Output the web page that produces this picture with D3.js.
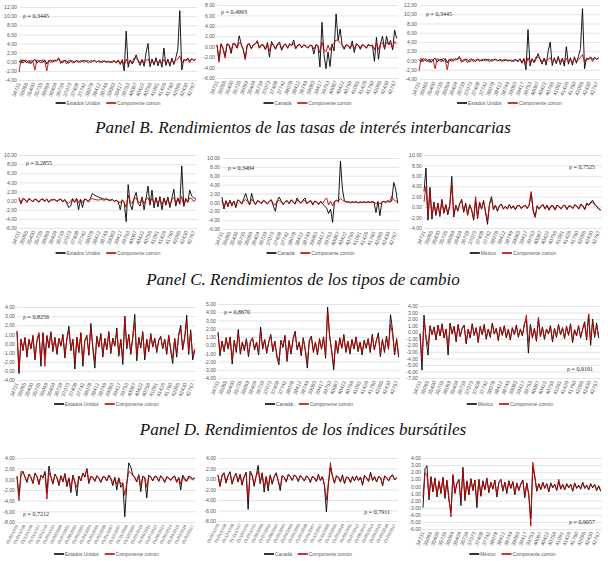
<!DOCTYPE html>
<head>
  <meta charset="utf-8">
  <script src="https://cdn.jsdelivr.net/npm/d3@7"></script>
  <style>
    body { margin: 0; background: #fff; }
  </style>
</head>
<body>
<script>

// category labels (Excel date serials, one every 11 months) and the daily-date variant
var serialTicks = ["34731","35065","35400","35735","36069","36404","36739","37073","37408","37742",
  "38078","38412","38749","39083","39417","39753","40087","40422","40756","41091",
  "41426","41760","42095","42430","42767"]
var dateTicks = ["01/02/1995","01/01/1996","01/12/1996","01/11/1997","01/10/1998","01/09/1999",
  "01/08/2000","01/07/2001","01/06/2002","01/05/2003","01/04/2004","01/03/2005","01/02/2006",
  "01/01/2007","01/12/2007","01/11/2008","01/10/2009","01/09/2010","01/08/2011","01/07/2012",
  "01/06/2013","01/05/2014","01/04/2015","01/03/2016","01/02/2017"]

var panelTitles = ["Panel B. Rendimientos de las tasas de interés interbancarias",
  "Panel C. Rendimientos de los tipos de cambio",
  "Panel D. Rendimientos de los índices bursátiles"]
var countries = ["Estados Unidos", "Canadá", "México"]
var commonLabel = "Componente común"
var rhoLabels = ["0,3445","0,4993","0,3445","0,2855","0,3404","0,7525",
  "0,8256","0,8670","0,9191","0,7212","0,7911","0,9057"]

// Panel A (bonos)
var usBond = [0.2,-0.3,0.4,0.1,-0.2,0.3,-0.4,0.2,0.5,-0.3,
  0.1,0.3,-0.2,0.4,-0.5,0.2,0.3,-0.1,0.4,0.2,
  0.6,0.1,-0.2,0.3,0.2,-0.3,0.1,0.2,-0.2,0.3,
  0.1,-0.1,0.2,0.3,0.1,-0.2,0.2,0.1,0.3,-0.1,
  0.2,0.1,-0.1,0.2,0.0,0.1,-0.2,0.1,0.2,-0.3,
  0.4,-0.6,0.3,-2.0,6.7,-1.2,0.4,-0.5,0.3,1.5,
  0.2,-0.8,0.5,-1.0,2.0,4.0,-1.1,0.6,-0.7,0.9,
  -0.9,0.5,-1.2,3.0,-0.8,0.6,-1.0,0.8,-0.6,0.9,
  2.6,11.2,-1.8,0.5,0.3,0.8,0.2,0.7,0.3,0.6]
var usBondCommon = [-2.3,0.5,-0.3,0.4,0.2,-0.4,0.3,0.1,-1.8,0.4,
  0.2,-0.3,0.5,0.1,-2.0,0.3,-0.2,0.4,0.1,0.3,
  0.9,-0.4,0.2,0.3,-0.5,0.2,0.4,-0.3,0.1,0.2,
  -0.2,0.3,0.1,-0.1,0.2,0.3,-0.2,0.1,0.2,0.0,
  0.1,-0.2,0.2,0.1,-0.1,0.0,0.1,-0.2,0.2,-0.1,
  0.3,-0.4,0.5,-0.9,0.6,-0.5,0.3,-0.2,0.8,0.7,
  0.4,-0.3,0.5,-0.2,0.3,0.6,-0.4,0.2,-0.3,0.4,
  -0.2,0.3,-0.4,0.5,-0.2,0.3,-0.5,0.4,-0.2,0.3,
  0.6,1.3,-0.3,0.4,0.2,0.5,-0.2,0.6,0.3,0.4]
var caBond = [0.3,-2.5,0.6,-0.4,-1.8,0.5,0.3,-1.3,0.7,0.4,
  -0.3,2.1,0.5,-0.6,-2.2,0.4,0.6,-0.4,0.3,0.5,
  1.0,-0.3,0.4,0.2,-0.5,0.8,-2.0,1.0,0.3,-0.4,
  0.6,0.9,-0.7,0.2,0.5,-0.3,0.6,0.2,1.3,-0.4,
  0.3,0.5,-0.2,0.4,0.1,-0.3,0.3,0.2,-1.4,0.4,
  0.2,-3.9,4.7,-1.5,-4.2,-1.0,-3.8,0.5,-0.8,6.3,
  1.2,3.4,0.3,-0.5,0.4,0.2,-0.4,1.1,-1.1,0.6,
  0.3,-0.5,0.4,0.2,-0.3,0.5,0.1,0.3,-2.8,1.8,
  -2.4,0.6,2.0,-0.5,2.0,0.4,1.2,-0.6,3.2,1.6]
var caBondCommon = [0.4,-3.0,0.5,-0.3,-2.2,0.6,0.4,-0.8,0.5,0.6,
  -0.2,0.8,0.4,-0.5,-2.5,0.3,0.5,-0.3,0.4,0.6,
  1.2,-0.2,0.3,0.4,-0.6,0.5,-0.8,0.6,0.2,-0.5,
  0.4,0.6,-0.4,0.3,0.5,-0.2,0.4,0.3,0.6,-0.3,
  0.2,0.4,-0.1,0.3,0.2,-0.2,0.2,0.3,-0.5,0.3,
  0.2,-1.2,0.9,-0.6,-1.0,0.3,-0.7,0.4,0.6,1.3,
  1.1,0.8,0.4,-0.2,0.3,0.2,-0.3,0.5,-0.4,0.4,
  0.3,-0.2,0.4,0.2,-0.2,0.3,0.2,0.3,-0.6,0.7,
  -0.5,0.5,0.8,-0.3,0.9,0.4,0.6,-0.2,1.0,0.5]

// Panel B (tasas interbancarias)
var usRate = [0.3,-0.4,0.5,0.2,-0.3,0.4,0.1,-0.2,0.3,0.2,
  -0.3,0.2,0.4,-0.1,0.3,-0.4,0.2,0.1,0.3,-0.2,
  0.1,0.3,-0.3,0.2,-0.5,-1.5,-1.2,0.3,-0.4,0.5,
  -2.0,0.2,-1.5,0.4,0.1,-0.3,0.5,1.6,1.2,1.0,
  0.8,0.6,0.5,0.3,0.4,0.2,0.1,0.3,-0.2,0.1,
  -0.3,-2.0,0.2,-0.5,-4.6,3.5,-0.8,-2.0,0.6,1.8,
  -0.6,-1.2,0.8,-2.0,0.5,3.2,-1.0,2.3,-1.6,0.7,
  -1.4,0.9,-2.0,0.6,-1.0,0.8,-1.5,0.5,2.5,-1.2,
  0.6,-0.8,7.6,-1.2,0.5,-0.4,2.3,1.0,0.6,0.5]
var usRateCommon = [0.7,-0.8,0.4,0.3,-0.4,0.5,0.2,-0.3,0.4,0.1,
  -0.4,0.3,0.2,-0.2,0.4,-0.3,0.1,0.3,0.2,-0.1,
  0.2,0.4,-0.2,0.3,-0.3,-0.6,-0.2,0.5,-0.3,0.4,
  -0.5,0.3,-0.4,0.2,0.3,-0.2,0.4,0.4,0.3,0.2,
  0.1,0.3,0.2,0.1,0.3,0.1,0.0,0.2,-0.1,0.0,
  -0.2,-0.5,0.1,-0.4,-1.5,1.2,-0.5,-0.6,0.4,0.6,
  -0.3,-0.5,0.4,-0.7,0.3,0.6,-0.4,0.5,-0.6,0.3,
  -0.5,0.4,-1.0,0.3,-0.4,0.5,-1.3,0.2,0.7,-0.6,
  0.4,-0.5,0.9,-1.3,0.3,-0.3,0.6,0.4,-0.2,0.3]
var caRate = [1.2,-1.5,0.4,-1.0,0.5,-0.8,0.3,-1.2,0.6,0.2,
  -0.4,0.8,2.0,0.5,-0.6,2.0,0.3,-0.5,0.4,0.2,
  -0.3,0.5,0.1,-0.4,0.3,0.6,-0.8,-2.0,0.4,1.2,
  0.3,-0.5,0.2,0.4,-0.3,0.6,0.2,-0.4,1.0,0.3,
  -0.2,0.5,1.0,-0.3,0.2,0.4,-0.6,0.3,0.1,-0.5,
  0.3,-0.4,-0.8,-1.3,-2.5,-1.5,-4.5,0.2,0.5,0.1,
  9.3,3.0,0.4,0.1,0.2,-0.1,0.1,0.0,0.2,-0.1,
  0.1,0.0,0.1,-0.1,0.2,0.0,0.1,0.1,-2.3,0.2,
  -3.0,0.1,0.2,0.0,0.4,0.1,0.3,4.5,3.0,-0.2]
var caRateCommon = [0.5,-1.4,0.3,-0.6,0.4,-0.5,0.2,-0.9,0.5,0.3,
  -0.3,0.4,0.6,0.3,-0.5,0.7,0.2,-0.4,0.3,0.1,
  -0.2,0.4,0.2,-0.3,0.2,0.5,-0.4,-0.6,0.3,0.4,
  0.2,-0.3,0.1,0.3,-0.2,0.4,0.1,-0.3,0.5,0.2,
  -0.1,0.3,0.4,-0.2,0.1,0.3,-0.4,0.2,0.1,-0.3,
  0.2,-0.3,0.5,1.0,-0.6,0.3,-0.8,0.2,0.4,0.3,
  0.9,0.5,0.2,0.1,0.1,0.0,0.1,0.0,0.1,-0.1,
  0.1,0.0,0.1,0.0,0.1,0.0,0.1,0.0,-0.3,0.1,
  -0.4,0.1,0.2,0.0,0.3,0.1,1.4,0.6,0.3,0.2]
var mxRate = [3.0,7.5,-2.5,3.8,-2.3,1.0,-1.6,0.8,-1.8,1.5,
  -1.2,0.5,-1.5,0.3,5.9,-1.9,0.4,-0.8,0.6,1.5,
  -1.0,0.8,-1.4,0.5,-0.6,-2.5,1.2,-2.2,0.9,-0.4,
  1.3,-1.0,-3.3,0.7,2.0,-0.5,0.4,-0.8,0.3,0.6,
  -0.4,0.2,-0.3,0.5,-0.2,0.3,-0.5,0.2,0.4,-0.3,
  0.1,0.3,-0.2,0.4,2.6,-0.6,-1.8,0.3,-0.4,0.2,
  0.5,-0.3,0.4,-0.6,0.2,0.3,-0.5,0.4,0.1,-0.3,
  0.2,0.4,-0.4,0.3,0.1,-0.2,0.5,0.2,-0.3,0.6,
  0.3,-0.4,0.8,0.4,1.0,1.3,0.5,0.2,-0.3,-0.5]
var mxRateCommon = [1.0,4.0,-2.0,3.2,-1.8,0.8,-1.2,0.6,-1.5,1.2,
  -1.0,0.4,-1.2,0.5,4.2,-1.6,0.3,-0.6,0.8,1.2,
  -0.8,0.6,-1.6,0.4,-0.5,-2.2,2.0,-1.8,1.0,-0.3,
  1.1,-0.9,-2.6,0.5,1.5,-0.4,0.3,-0.6,0.2,0.5,
  -0.3,0.1,-0.4,0.4,-0.3,0.2,-0.4,0.3,0.3,-0.2,
  0.2,0.4,-0.3,0.5,3.0,-0.8,-2.0,0.2,-0.3,0.3,
  0.4,-0.4,0.3,-0.5,0.3,0.2,-0.6,0.3,0.2,-0.4,
  0.3,0.3,-0.5,0.2,0.2,-0.3,0.4,0.1,-0.4,0.5,
  0.2,-0.5,0.6,0.3,0.8,1.0,0.4,0.1,-0.4,-0.6]

// Panel C (tipos de cambio)
var usFx = [1.3,-3.3,0.5,-0.8,0.6,-1.5,0.4,-0.6,0.9,-1.8,
  0.3,1.0,-2.5,1.2,-1.4,0.8,-0.5,1.3,-0.9,0.7,
  -1.2,0.5,-0.3,1.0,-1.6,0.6,1.9,-0.8,0.4,-2.8,
  0.7,-1.0,1.2,-2.5,0.3,0.9,-1.3,2.2,-0.6,-2.7,
  0.8,-0.4,1.1,-1.5,0.5,-0.7,1.3,-1.1,0.6,-0.3,
  1.7,-1.4,0.4,-2.3,3.0,-0.6,1.0,-1.2,0.8,3.2,
  -1.9,0.7,-0.5,1.3,-1.8,0.4,-0.9,1.1,-0.4,0.6,
  -1.0,0.3,0.8,-0.6,0.4,-1.2,0.9,-0.8,-2.2,0.5,
  -1.5,1.0,2.0,-0.7,0.6,3.1,-1.2,1.5,-1.8,-0.8]
var usFxCommon = [1.4,-3.1,0.4,-0.6,0.7,-1.2,0.5,-0.5,0.7,-1.6,
  0.4,1.2,-1.8,1.0,-2.5,0.9,-0.3,1.1,-0.7,0.5,
  -1.0,0.6,-0.2,0.8,-1.2,0.5,1.4,-0.6,0.5,-2.0,
  0.6,-0.8,1.0,-1.9,0.4,0.7,-1.0,1.7,-0.4,-1.9,
  0.7,-0.3,0.9,-1.2,0.6,-0.5,1.1,-0.9,0.5,-0.2,
  1.3,-1.1,0.5,-1.8,2.9,-0.4,0.8,-1.0,0.6,2.3,
  -1.5,0.6,-0.3,1.1,-1.4,0.5,-0.7,0.9,-0.3,0.5,
  -0.8,0.4,0.7,-0.5,0.5,-1.0,0.8,-0.6,-1.6,0.6,
  -1.1,0.9,1.6,-0.5,0.7,2.4,-0.9,1.2,-1.3,-0.6]
var caFx = [1.6,-1.3,0.5,-0.8,0.9,-0.4,1.0,-2.3,0.6,-0.9,
  1.9,-1.1,0.3,-0.7,0.8,-1.4,0.4,0.9,-0.6,0.3,
  -1.2,2.2,-0.5,0.7,-1.0,0.4,1.3,-0.8,0.5,-1.5,
  -2.4,0.6,-0.3,1.2,-2.0,0.5,-1.1,0.8,1.7,-0.6,
  0.4,-1.3,0.9,-0.7,-2.8,0.6,1.1,-0.9,0.3,-1.2,
  0.8,-0.5,1.0,-1.6,4.6,1.2,-0.8,-3.0,0.5,-1.0,
  0.9,-0.4,1.3,-0.9,0.4,-1.1,0.7,-0.5,1.0,-0.8,
  0.3,-1.2,0.6,-0.4,0.8,-0.9,1.3,-0.6,0.5,1.5,
  -1.4,0.7,-0.9,1.1,-0.5,3.7,1.8,-1.2,0.8,-1.5]
var caFxCommon = [1.4,-1.0,0.4,-0.6,0.8,-0.5,0.9,-1.8,0.5,-0.7,
  1.5,-0.9,0.4,-0.5,0.7,-1.1,0.5,0.8,-0.4,0.4,
  -1.0,1.8,-0.4,0.6,-0.8,0.3,1.1,-0.6,0.4,-1.2,
  -1.9,0.5,-0.2,1.0,-1.6,0.6,-0.9,0.7,1.4,-0.4,
  0.3,-1.0,0.8,-0.5,-2.1,0.5,0.9,-0.7,0.4,-1.0,
  0.7,-0.4,0.9,-1.2,4.0,1.0,-0.6,-2.5,0.6,-0.8,
  0.8,-0.3,1.1,-0.7,0.5,-0.9,0.6,-0.4,0.9,-0.6,
  0.4,-1.0,0.5,-0.3,0.7,-0.7,1.1,-0.5,0.6,1.2,
  -1.1,0.6,-0.7,0.9,-0.4,2.5,1.4,-1.0,0.7,-1.1]
var mxFx = [-0.3,-5.8,2.6,-1.0,-3.5,1.0,-0.4,0.8,-1.2,1.1,
  -0.6,1.3,-0.9,0.5,-3.5,1.4,-0.3,0.9,-1.5,1.2,
  -0.7,0.6,1.1,-1.8,0.4,-0.9,1.3,-0.5,0.7,-1.6,
  0.9,-0.4,1.2,-1.1,0.5,-0.8,1.4,-0.3,0.6,-1.3,
  0.8,-0.5,1.0,-0.9,0.4,-1.2,0.7,-0.4,1.1,-0.8,
  0.5,-0.6,1.3,1.8,-3.2,1.2,-0.9,0.6,-1.4,1.9,
  -0.7,0.8,-1.1,0.5,-0.3,1.0,-1.5,0.6,-0.8,1.2,
  -0.4,0.7,-1.0,0.9,-0.5,1.3,-1.6,0.4,-0.6,1.0,
  -0.9,0.5,1.6,-1.2,2.7,-2.0,2.0,-0.8,1.4,-0.9]
var mxFxCommon = [-0.2,-4.2,1.8,-0.8,-2.0,0.9,-0.3,0.7,-1.0,1.0,
  -0.5,1.1,-0.8,0.4,-2.2,1.2,-0.2,0.8,-1.2,1.0,
  -0.6,0.5,0.9,-1.5,0.5,-0.7,1.1,-0.4,0.6,-1.3,
  0.8,-0.3,1.0,-0.9,0.4,-0.6,1.2,-0.2,0.5,-1.1,
  0.7,-0.4,0.9,-0.7,0.5,-1.0,0.6,-0.3,0.9,-0.6,
  0.4,-0.5,1.1,2.6,-1.6,1.0,-0.7,0.5,-1.2,2.3,
  -0.6,0.7,-0.9,0.4,-0.2,0.8,-1.2,0.5,-0.6,1.0,
  -0.3,0.6,-0.8,0.8,-0.4,1.1,-1.3,0.3,-0.5,0.9,
  -0.7,0.4,1.3,-1.0,2.8,-1.4,1.6,-0.6,1.1,-0.8]

// Panel D (indices bursatiles)
var usStock = [0.6,-3.0,0.8,1.5,0.4,-0.6,1.0,0.3,-0.8,1.2,
  0.5,-1.0,0.8,0.2,1.5,-2.5,2.5,0.4,-0.9,1.0,
  0.3,-1.2,0.7,-0.5,1.1,-1.4,0.2,-2.5,0.8,-0.6,
  -3.1,0.6,-0.3,1.2,0.4,2.0,-0.8,0.5,0.3,-0.4,
  0.7,0.2,-0.6,0.5,0.4,-0.3,0.8,0.1,-1.2,0.4,
  -2.0,0.3,-1.5,-0.8,-7.0,-1.0,3.1,2.3,0.8,0.4,
  -0.5,0.9,-2.3,0.6,0.3,-3.5,0.8,0.4,-0.3,0.6,
  0.5,-0.4,0.7,0.2,-0.6,0.5,0.3,-0.2,0.4,0.6,
  -0.5,0.3,-2.0,0.8,0.2,-0.3,0.6,0.4,0.1,0.3]
var usStockCommon = [0.5,-4.0,1.5,1.3,0.5,-0.4,0.9,0.4,-0.6,1.0,
  0.6,-0.8,0.7,0.3,1.2,-3.7,1.2,0.5,-0.7,0.9,
  0.4,-0.9,0.6,-0.4,1.0,-1.0,0.3,-1.6,0.7,-0.5,
  -1.5,0.5,-0.2,1.0,0.5,2.0,-0.6,0.6,0.4,-0.3,
  0.6,0.3,-0.5,0.4,0.5,-0.2,0.7,0.2,-0.8,0.3,
  -1.0,0.2,-0.9,-0.6,-3.0,-0.7,1.5,1.2,0.7,0.3,
  -0.4,0.8,-1.2,0.5,0.4,-1.5,0.6,0.5,-0.2,0.5,
  0.4,-0.3,0.6,0.3,-0.5,0.4,0.2,-0.1,0.3,0.5,
  -0.6,0.4,-0.9,0.6,-0.2,-0.4,0.3,0.2,-0.1,0.2]
var caStock = [0.8,-1.3,0.5,1.2,-0.8,0.6,1.4,-1.0,0.3,1.1,
  -0.6,0.9,-1.2,0.4,1.3,-5.8,1.5,0.8,-1.4,0.6,
  2.6,-0.9,1.2,-2.5,0.4,-2.3,0.8,-1.0,0.5,1.2,
  -0.4,-2.2,0.7,0.3,-0.6,0.9,0.5,-0.3,0.8,0.4,
  -0.5,0.7,0.2,-0.4,0.6,0.3,-0.7,0.5,0.2,-0.5,
  0.9,-0.3,0.4,-1.2,-6.3,-1.0,2.2,0.5,-0.8,0.6,
  0.3,-0.6,0.8,-0.9,0.4,0.2,-0.7,0.5,-0.4,0.6,
  -0.3,0.4,-1.2,0.7,0.2,-0.5,1.3,-0.3,0.4,-0.6,
  0.5,0.2,-1.3,0.6,0.3,-0.4,0.5,0.8,-0.2,0.3]
var caStockCommon = [0.6,-1.5,0.8,1.0,-0.6,0.7,1.2,-0.8,0.4,0.9,
  -0.4,0.8,-0.9,0.5,1.1,-3.8,1.2,0.7,-1.0,0.5,
  1.5,-0.7,1.0,-1.6,0.5,-1.4,0.7,-0.8,0.4,1.0,
  -0.3,-1.5,0.6,0.4,-0.5,0.8,0.4,-0.2,0.7,0.5,
  -0.4,0.6,0.3,-0.3,0.5,0.2,-0.5,0.4,0.3,-0.4,
  0.7,-0.2,0.5,-1.0,-4.0,-0.6,3.1,0.6,-0.6,0.5,
  0.4,-0.5,0.6,-0.7,0.3,0.3,-0.6,0.4,-0.3,0.5,
  -0.2,0.3,-0.9,0.6,0.3,-0.4,1.0,-0.2,0.5,-0.5,
  0.4,0.3,-1.0,0.5,0.2,-0.3,0.4,0.6,-0.1,0.2]
var mxStock = [-3.0,2.5,2.9,-1.9,1.4,-0.8,1.2,-1.5,0.6,-1.0,
  1.3,-1.7,0.8,-2.0,-3.5,1.5,-1.0,0.4,1.0,-2.7,
  2.7,-2.0,0.7,-1.2,1.1,-0.6,0.9,-3.0,1.0,-1.4,
  0.8,-0.5,1.1,-0.9,0.6,-0.4,0.9,-1.5,0.5,1.0,
  -0.7,0.6,-1.0,0.8,-0.3,0.7,-1.2,0.5,-0.6,0.4,
  0.9,-1.6,0.5,-1.3,-4.5,2.8,1.3,-0.7,0.4,-0.5,
  0.6,-0.3,0.4,-0.8,0.5,-0.2,0.3,-0.6,0.7,-0.4,
  0.3,-0.5,0.4,-0.2,0.3,-0.7,0.5,-0.3,0.2,-0.4,
  0.6,-0.3,0.2,-0.5,0.4,-0.2,0.3,-0.6,0.1,-0.7]
var mxStockCommon = [-1.5,1.9,1.6,-1.5,1.2,-0.6,1.0,-1.2,0.8,-0.8,
  1.1,-1.3,0.9,-1.6,-4.3,1.7,-0.8,0.5,0.8,-1.8,
  2.2,-1.6,0.8,-1.0,1.0,-0.5,0.8,-2.1,0.9,-1.1,
  0.7,-0.4,1.2,-0.7,0.5,-0.3,0.8,-1.2,0.6,0.9,
  -0.5,0.5,-0.8,0.7,-0.2,0.6,-1.0,0.4,-0.5,0.3,
  0.8,-1.3,0.4,-1.1,-5.6,3.4,1.5,-0.5,0.3,-0.4,
  0.5,-0.2,0.3,-0.6,0.4,-0.1,0.3,-0.5,1.0,-0.3,
  0.2,-0.4,0.3,-0.1,0.2,-0.6,0.4,-0.2,0.1,-0.3,
  0.5,-0.2,0.1,-0.4,0.3,-0.1,0.2,-0.5,0.0,-0.6]

var W = 608, H = 561
var lastMonth = 269      // months covered by the horizontal axis
var pointStep = 3        // months between plotted points
var tickStep = 11        // months between category labels

var svg = d3.select("body").append("svg")
            .attr("width", W)
            .attr("height", H)

var makeLocale = function(dec, thou) {
  return d3.formatLocale({decimal: dec, thousands: thou, grouping: [3], currency: ["", ""], minus: "-"}).format(".2f")
}
var fmtComma = makeLocale(",", ".")
var fmtDot = makeLocale(".", ",")

var panels = [
  {black: usBond, red: usBondCommon, c: 0, lo: -4, hi: 12, x0: 19, x1: 197, yHi: 7, yLo: 80, comma: true, rx: 23, ry: 16, ra: "start", ticks: serialTicks, legY: 103},
  {black: caBond, red: caBondCommon, c: 1, lo: -6, hi: 8, x0: 217, x1: 398, yHi: 5, yLo: 78, comma: false, rx: 221, ry: 12, ra: "start", ticks: serialTicks, legY: 103},
  {black: usBond, red: usBondCommon, c: 0, lo: -4, hi: 12, x0: 419, x1: 600, yHi: 5, yLo: 79, comma: true, rx: 426, ry: 14, ra: "start", ticks: serialTicks, legY: 103},

  {black: usRate, red: usRateCommon, c: 0, lo: -6, hi: 10, x0: 19, x1: 197, yHi: 155, yLo: 228, comma: true, rx: 26, ry: 163, ra: "start", ticks: serialTicks, legY: 253},
  {black: caRate, red: caRateCommon, c: 1, lo: -6, hi: 10, x0: 222, x1: 399, yHi: 158, yLo: 229, comma: false, rx: 228, ry: 168, ra: "start", ticks: serialTicks, legY: 253},
  {black: mxRate, red: mxRateCommon, c: 2, lo: -4, hi: 10, x0: 424, x1: 602, yHi: 155, yLo: 228, comma: false, rx: 595, ry: 167, ra: "end", ticks: serialTicks, legY: 253},

  {black: usFx, red: usFxCommon, c: 0, lo: -4, hi: 4, step: 1, x0: 17, x1: 196, yHi: 307, yLo: 380, comma: true, rx: 23, ry: 317, ra: "start", ticks: serialTicks, legY: 404},
  {black: caFx, red: caFxCommon, c: 1, lo: -4, hi: 5, step: 1, x0: 218, x1: 400, yHi: 304, yLo: 378, comma: false, rx: 224, ry: 312, ra: "start", ticks: serialTicks, legY: 404},
  {black: mxFx, red: mxFxCommon, c: 2, lo: -7, hi: 4, step: 1, x0: 420, x1: 600, yHi: 306, yLo: 378, comma: false, rx: 593, ry: 369, ra: "end", ticks: serialTicks, legY: 404},

  {black: usStock, red: usStockCommon, c: 0, lo: -8, hi: 4, x0: 17, x1: 196, yHi: 458, yLo: 522, comma: true, rx: 23, ry: 514, ra: "start", ticks: dateTicks, legY: 554},
  {black: caStock, red: caStockCommon, c: 1, lo: -8, hi: 4, x0: 218, x1: 398, yHi: 458, yLo: 521, comma: false, rx: 390, ry: 512, ra: "end", ticks: dateTicks, legY: 554},
  {black: mxStock, red: mxStockCommon, c: 2, lo: -6, hi: 4, step: 1, x0: 423, x1: 602, yHi: 458, yLo: 529, comma: false, rx: 595, ry: 522, ra: "end", ticks: serialTicks, legY: 554}
]

var titleY = [133, 285, 435]

// titles, sized so the first one spans its width in the reference
var titleSize = 18
var probe = svg.append("text")
               .attr("font-family", "Liberation Serif, serif")
               .attr("font-style", "italic")
               .attr("font-size", titleSize)
               .text(panelTitles[0])
titleSize = titleSize * 416 / probe.node().getComputedTextLength()
probe.remove()

svg.selectAll("text.title")
   .data(panelTitles)
   .enter()
   .append("text")
   .attr("class", "title")
   .attr("x", 303)
   .attr("y", function(d, i) { return titleY[i] })
   .attr("text-anchor", "middle")
   .attr("font-family", "Liberation Serif, serif")
   .attr("font-style", "italic")
   .attr("font-size", titleSize)
   .attr("fill", "#111")
   .text(function(d) { return d })

panels.forEach(function(p, i) {
  var g = svg.append("g")
  var step = p.step || 2
  var x = d3.scaleLinear().domain([0, lastMonth]).range([p.x0, p.x1])
  var y = d3.scaleLinear().domain([p.lo, p.hi]).range([p.yLo, p.yHi])
  var yTicks = d3.range(p.lo, p.hi + step / 2, step)

  // gridlines
  g.append("g")
   .attr("transform", "translate(" + p.x0 + ",0)")
   .call(d3.axisLeft(y).tickValues(yTicks).tickSize(-(p.x1 - p.x0)).tickFormat(""))
   .call(function(a) {
     a.select(".domain").remove()
     a.selectAll("line").attr("stroke", "#d9d9d9").attr("stroke-width", 0.7)
   })

  // value labels
  g.append("g")
   .attr("transform", "translate(" + p.x0 + ",0)")
   .call(d3.axisLeft(y).tickValues(yTicks).tickSize(0).tickPadding(2).tickFormat(p.comma ? fmtComma : fmtDot))
   .call(function(a) {
     a.select(".domain").remove()
     a.selectAll("text")
      .attr("font-size", 5.2)
      .attr("font-family", "Liberation Sans, Arial, sans-serif")
      .attr("fill", "#595959")
   })

  // rotated category labels
  var small = p.ticks === dateTicks
  g.append("g")
   .selectAll("text")
   .data(p.ticks)
   .enter()
   .append("text")
   .attr("transform", function(d, k) {
     return "translate(" + x(k * tickStep) + "," + (p.yLo + 3) + ") rotate(" + (small ? -62 : -68) + ")"
   })
   .attr("text-anchor", "end")
   .attr("dy", "0.35em")
   .attr("font-size", small ? 4.2 : 5.2)
   .attr("font-family", "Liberation Sans, Arial, sans-serif")
   .attr("fill", "#595959")
   .text(function(d) { return d })

  var line = d3.line()
               .x(function(d, k) { return x(k * pointStep) })
               .y(function(d) { return y(d) })

  g.append("path")
   .datum(p.black)
   .attr("d", line)
   .attr("fill", "none")
   .attr("stroke", "#000")
   .attr("stroke-width", 0.9)
   .attr("stroke-linejoin", "round")

  g.append("path")
   .datum(p.red)
   .attr("d", line)
   .attr("fill", "none")
   .attr("stroke", "#c00000")
   .attr("stroke-width", 0.9)
   .attr("stroke-linejoin", "round")

  // correlation
  g.append("text")
   .attr("x", p.rx)
   .attr("y", p.ry + 2)
   .attr("text-anchor", p.ra)
   .attr("font-family", "Liberation Serif, serif")
   .attr("font-size", 6)
   .attr("fill", "#262626")
   .text("ρ = " + rhoLabels[i])

  // legend
  var leg = g.append("g")
  var items = [[countries[p.c], "#000"], [commonLabel, "#c00000"]]
  var cx = 0
  items.forEach(function(it) {
    leg.append("line")
       .attr("x1", cx).attr("x2", cx + 10)
       .attr("y1", 0).attr("y2", 0)
       .attr("stroke", it[1])
       .attr("stroke-width", 1.6)
    var t = leg.append("text")
               .attr("x", cx + 11)
               .attr("y", 0)
               .attr("dy", "0.35em")
               .attr("font-size", 4.8)
               .attr("font-family", "Liberation Sans, Arial, sans-serif")
               .attr("fill", "#595959")
               .text(it[0])
    cx += 11 + t.node().getComputedTextLength() + 6
  })
  leg.attr("transform", "translate(" + ((p.x0 + p.x1) / 2 - (cx - 6) / 2) + "," + p.legY + ")")
})

</script>
</body>
